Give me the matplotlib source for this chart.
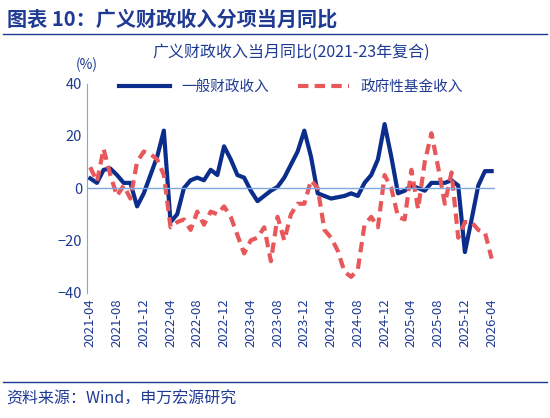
import matplotlib.pyplot as plt
import numpy as np

plt.rcParams['font.family'] = ['Noto Sans CJK SC', 'DejaVu Sans']

# monthly values 2021-04 .. 2026-04
general = [3.7, 2, 7, 7.5, 5, 2, 2, -7, -2, 5, 12, 22, -13, -10, 0, 3, 4, 3, 7, 5,
           16, 11, 5, 4, -1, -5, -3, -1, 0.5, 4, 9, 14, 22, 12, -2, -3, -4, -3.5, -3, -2,
           -3, 2, 5, 11, 24.5, 12, -2, -1, 1, 0, -1, 2, 2, 2, 3, 1, -24.5, -12, 1, 6.5, 6.5]
fund = [8, 2.5, 15, 5, -3, 1, -4, 10, 14, 13, 11, 5, -15, -13, -12, -16, -9, -14, -9, -10,
        -7, -11, -18, -25, -20, -19, -15, -28, -11, -20, -10, -6, -6, 3, 0, -16, -19, -24, -32, -34,
        -31, -14, -11, -15, 5, 0, -11, -12, 7, -8, 10, 21, 8, -6, 6, -19, -13, -13, -16, -17, -27]
months = []
y, m = 2021, 4
for _ in range(len(general)):
    months.append(f"{y}-{m:02d}")
    m += 1
    if m > 12:
        m, y = 1, y + 1

x = np.arange(len(months))
navy = '#0b2d8c'
red = '#e8585a'
text_blue = '#1f3a93'

fig = plt.figure(figsize=(5.5, 4.18), dpi=100)
fig.text(0.012, 0.955, '图表 10：广义财政收入分项当月同比', fontsize=14.5, fontweight='bold',
         color=text_blue, va='center')
fig.add_artist(plt.Line2D([0.005, 0.995], [0.918, 0.918], color=text_blue, lw=1))
fig.add_artist(plt.Line2D([0.005, 0.995], [0.085, 0.085], color=text_blue, lw=1))
fig.text(0.012, 0.045, '资料来源：Wind，申万宏源研究', fontsize=11.5, color=text_blue, va='center')

ax = fig.add_axes([0.158, 0.30, 0.742, 0.50])
ax.plot(x, general, color=navy, lw=3, label='一般财政收入')
ax.plot(x, fund, color=red, lw=3, ls=(0, (2.5, 1.5)), label='政府性基金收入')
ax.axhline(0, color='#7fa7e0', lw=1)
ax.set_ylim(-40, 40)
ax.set_yticks([-40, -20, 0, 20, 40])
ax.set_xlim(-0.5, len(x) - 0.5)
ax.set_xticks(x[::4])
ax.set_xticklabels(months[::4], rotation=90, fontsize=9.5, color=text_blue)
ax.tick_params(axis='y', labelsize=10.5, colors=text_blue, length=0)
ax.tick_params(axis='x', length=0, pad=4)
for s in ['top', 'right', 'bottom']:
    ax.spines[s].set_visible(False)
ax.spines['left'].set_color('#7fa7e0')
ax.text(0.0, 1.07, '(%)', transform=ax.transAxes, fontsize=10, color=text_blue, ha='center')
fig.text(0.53, 0.865, '广义财政收入当月同比(2021-23年复合)', fontsize=11.5, color=text_blue, ha='center')
ax.legend(loc='upper center', bbox_to_anchor=(0.5, 1.08), ncol=2, frameon=False,
          fontsize=10.5, labelcolor=text_blue, handlelength=3.5, columnspacing=2)

fig.savefig('out.png', dpi=100)
